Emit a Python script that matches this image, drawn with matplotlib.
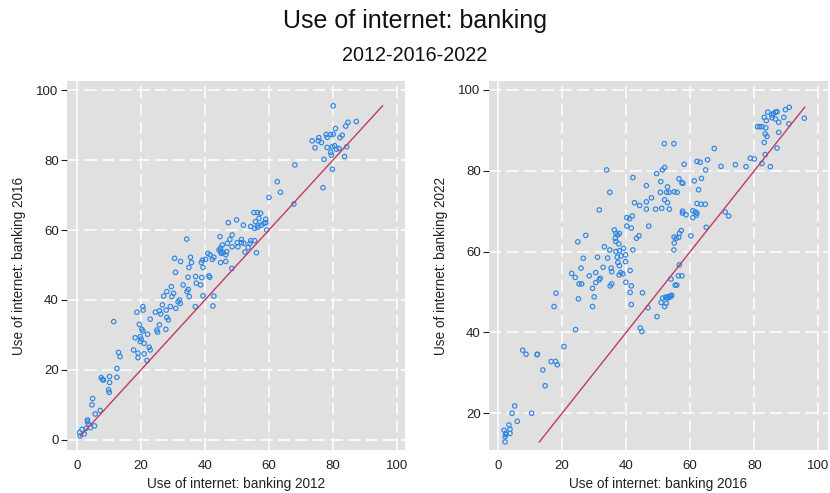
import matplotlib
matplotlib.use("Agg")
import matplotlib.pyplot as plt
import numpy as np

plt.rcParams['font.family'] = ['Liberation Sans', 'DejaVu Sans']

# Panel 1: banking 2012 (x) vs banking 2016 (y)
bank_2012 = [
    0.8, 1.6, 1.0, 2.3, 2.9, 3.3, 3.6, 4.2, 5.5, 3.3,
    4.7, 4.9, 5.7, 7.3, 9.9, 10.1, 10.2, 7.6, 8.0, 8.3,
    10.2, 12.5, 12.5, 13.0, 13.5, 11.5, 17.7, 19.1, 19.1, 21.0,
    21.9, 22.6, 22.9, 18.2, 19.8, 19.8, 20.1, 21.0, 22.1, 19.5,
    20.3, 20.6, 18.75, 20.6, 20.7, 22.9, 24.5, 25.0, 25.2, 25.8,
    25.8, 26.2, 26.7, 27.9, 28.1, 28.6, 27.8, 29.2, 29.7, 30.9,
    31.6, 32.1, 32.3, 30.2, 28.1, 34.4, 35.1, 37.0, 39.4, 27.1,
    62.6, 63.6, 60.0, 67.8, 55.3, 56.4, 57.4, 56.9, 59.0, 55.8,
    58.4, 59.0, 56.6, 57.6, 54.3, 55.5, 56.4, 59.3, 47.3, 49.9,
    52.0, 48.5, 47.8, 44.7, 51.4, 50.1, 51.4, 52.2, 54.3, 55.5,
    54.1, 53.5, 52.5, 56.1, 48.5, 50.3, 47.0, 45.4, 44.9, 44.4,
    44.9, 45.7, 45.1, 46.5, 46.8, 42.8, 42.3, 40.9, 41.6, 40.2,
    39.2, 38.9, 44.9, 46.5, 48.4, 34.3, 35.5, 32.4, 35.8, 30.5,
    35.0, 39.4, 30.8, 34.7, 37.1, 39.0, 41.25, 41.5, 37.3, 38.65,
    33.2, 29.5, 34.8, 42.8, 42.5,
    80.1, 87.3, 84.7, 84.0, 80.8, 77.9, 79.3, 80.1, 82.9, 82.2,
    75.6, 75.4, 73.5, 76.4, 78.2, 74.4, 78.2, 79.8, 80.5, 81.1,
    81.9, 84.3, 79.3, 79.5, 77.2, 83.6, 79.8, 68.1, 76.9,
]
bank_2016_a = [
    2.1, 3.0, 1.1, 1.7, 3.3, 5.2, 4.5, 3.5, 4.0, 5.7,
    10.0, 11.8, 7.4, 8.4, 14.3, 13.6, 16.4, 17.8, 17.3, 17.1,
    18.1, 17.9, 20.4, 25.0, 23.8, 33.8, 25.7, 24.8, 23.5, 24.6,
    22.7, 26.5, 25.7, 29.2, 29.5, 28.1, 28.8, 27.6, 30.2, 33.0,
    31.6, 31.1, 36.5, 38.1, 37.1, 34.5, 36.5, 31.4, 30.8, 32.9,
    36.9, 36.0, 38.6, 37.1, 35.0, 34.3, 31.6, 38.1, 41.0, 37.6,
    39.5, 40.0, 39.0, 41.9, 42.4, 42.4, 41.0, 38.1, 41.2, 41.1,
    73.8, 70.8, 69.3, 67.4, 65.0, 65.0, 64.8, 63.3, 63.1, 62.4,
    61.9, 62.1, 61.4, 61.4, 61.0, 60.5, 60.8, 60.0, 62.1, 62.9,
    61.4, 58.6, 57.3, 58.1, 57.3, 56.4, 56.4, 56.2, 56.95, 56.95,
    56.2, 55.0, 53.7, 53.5, 55.2, 55.2, 56.2, 55.7, 54.8, 54.3,
    53.8, 53.5, 53.3, 52.9, 53.8, 52.2, 51.6, 53.3, 52.9, 51.6,
    51.4, 50.7, 50.7, 51.0, 49.0, 57.4, 52.2, 51.0, 50.7, 51.9,
    49.3, 49.3, 47.9, 46.5, 46.7, 46.4, 46.9, 46.5, 44.8, 44.3,
    44.3, 43.8, 43.0, 41.1, 38.3,
    95.5, 91.0, 90.8, 89.7, 89.0, 87.3, 87.3, 87.4, 87.1, 86.4,
    86.4, 85.5, 85.5, 85.0, 86.5, 83.5, 83.6, 83.8, 84.1, 83.1,
    83.3, 83.8, 82.2, 81.4, 80.2, 81.0, 77.4, 78.6, 72.1,
]

# Panel 2: banking 2016 (x) vs banking 2022 (y)
bank_2016_b = [
    2.2, 2.2, 2.5, 2.4, 1.9, 3.75, 3.75, 3.4, 6.0, 4.4,
    5.2, 10.5, 7.7, 8.75, 12.3, 12.2, 14.0, 14.7, 16.6, 18.0,
    18.5, 20.6, 24.2, 44.4, 44.9,
    17.5, 18.1, 25.1, 29.5, 30.0, 41.25, 45.1, 41.6, 46.8, 49.6,
    50.9, 51.4, 52.0, 52.5, 52.7, 53.2, 53.5, 53.7, 54.2, 54.0,
    53.0, 52.3, 54.0, 55.3, 55.8, 56.3, 57.4,
    23.0, 24.1, 25.3, 26.1, 28.5, 29.5, 30.5, 30.5, 31.6,
    31.9, 35.0, 35.5, 35.5, 37.8, 38.3, 39.0, 39.9, 41.6, 41.25,
    51.9, 54.9, 58.1, 52.0, 51.3, 49.5, 56.5, 57.4, 57.7,
    33.9, 42.1, 34.9, 46.3, 50.8, 52.9, 50.7, 52.6, 53.4, 55.0, 55.9,
    47.9, 46.3, 52.0, 52.9, 42.6, 44.2, 46.3, 49.2, 51.1, 53.5,
    31.6, 40.2, 41.05, 41.9, 40.2, 41.6, 47.05, 43.2, 44.0,
    36.3, 36.8, 37.4, 37.9, 36.6, 36.8, 37.7, 33.2, 34.9, 36.8,
    37.9, 39.2, 27.4, 24.9, 42.1, 37.2, 38.4, 39.8, 31.05, 34.2,
    26.6, 32.8, 35.3, 37.4, 37.9, 39.8, 25.9,
    56.6, 54.9, 55.0, 55.6, 56.6, 57.2, 54.95, 56.4, 60.2,
    57.6, 57.6, 58.7,
    90.9, 89.7, 95.6, 87.1, 86.6, 86.0, 85.5, 84.2, 83.1, 83.75,
    85.5, 86.6, 87.6, 89.2, 90.8, 81.0, 81.7, 82.4, 83.6, 83.4,
    83.96, 87.6, 83.1, 87.1, 83.4, 82.4, 85.0, 78.75, 80.0, 77.4,
    74.1, 69.6, 67.5, 65.4, 62.1, 63.1, 64.8, 63.5, 61.25, 62.6,
    62.1, 63.4, 64.7, 60.8, 61.6, 62.1, 61.9, 60.8, 70.9, 71.98,
    65.0,
]
bank_2022 = [
    12.9, 14.2, 14.7, 15.0, 15.8, 15.0, 16.0, 17.1, 18.0, 20.0,
    21.8, 20.0, 35.6, 34.6, 34.6, 34.5, 30.7, 26.8, 32.8, 32.8,
    32.0, 36.5, 40.7, 41.1, 40.2,
    46.4, 49.7, 48.3, 46.4, 48.8, 49.9, 49.8, 46.9, 46.1, 43.9,
    47.4, 48.5, 46.4, 47.2, 48.7, 48.8, 48.7, 49.0, 49.2, 48.9,
    48.5, 48.7, 53.2, 51.7, 51.7, 54.0, 54.0,
    54.6, 53.6, 52.0, 52.0, 54.0, 50.9, 52.3, 54.8, 53.0,
    53.4, 51.5, 52.0, 55.0, 54.2, 54.8, 54.5, 52.4, 51.5, 55.3,
    86.7, 86.7, 81.6, 80.8, 80.2, 79.3, 78.0, 77.0, 76.9,
    80.2, 78.3, 74.65, 76.3, 77.3, 76.0, 74.65, 74.65, 74.65, 74.8, 74.65,
    73.3, 72.3, 72.8, 72.1, 72.1, 71.4, 70.5, 70.5, 70.7, 70.5,
    70.3, 68.4, 68.1, 68.8, 66.3, 65.8, 66.3, 63.3, 63.9,
    65.35, 64.5, 64.1, 64.5, 63.3, 62.5, 61.9, 61.2, 60.4, 60.0,
    60.2, 60.8, 64.0, 62.4, 60.4, 58.6, 58.9, 59.2, 58.6, 58.4,
    58.35, 56.1, 55.9, 57.3, 56.5, 57.5, 55.9,
    56.7, 60.4, 62.1, 63.3, 64.5, 65.2, 63.6, 63.5, 63.9,
    70.0, 69.5, 69.1,
    95.7, 95.1, 93.0, 94.6, 94.5, 94.2, 93.8, 94.5, 93.2, 92.4,
    93.1, 92.8, 92.0, 93.2, 91.6, 90.9, 90.9, 90.9, 90.6, 89.1,
    88.5, 89.5, 87.0, 85.6, 84.0, 81.8, 81.0, 83.1, 82.9, 81.0,
    81.5, 81.1, 85.5, 82.7, 82.3, 82.1, 80.2, 78.1, 77.5, 75.3,
    71.9, 71.7, 71.7, 70.1, 69.8, 69.5, 69.0, 68.4, 69.8, 68.8,
    66.0,
]

ticks = [0, 20, 40, 60, 80, 100]
title = "Use of internet: banking"
subtitle = "2012-2016-2022"

BG = "#e0e0e0"
DOT = "#2f86e0"
LINE = "#c23a63"

fig = plt.figure(figsize=(8.30, 4.93), dpi=100)
fig.patch.set_facecolor("white")

panels = [
    dict(x=bank_2012, y=bank_2016_a, xl="Use of internet: banking 2012",
         yl="Use of internet: banking 2016", rect=[0.0807, 0.0872, 0.4072, 0.7485],
         xlim=(-3.1, 102.5), ylim=(-2.9, 102.6), yticks=ticks),
    dict(x=bank_2016_b, y=bank_2022, xl="Use of internet: banking 2016",
         yl="Use of internet: banking 2022", rect=[0.5892, 0.0872, 0.4084, 0.7485],
         xlim=(-2.8, 103.0), ylim=(10.9, 102.2), yticks=ticks[1:]),
]

for p in panels:
    ax = fig.add_axes(p["rect"])
    ax.set_facecolor(BG)
    for s in ax.spines.values():
        s.set_visible(False)
    ax.set_xlim(*p["xlim"])
    ax.set_ylim(*p["ylim"])
    ax.set_xticks(ticks)
    ax.set_yticks(p["yticks"])
    # grid: solid at x=0, dashed elsewhere
    for t in ticks:
        if t == 0:
            ax.axvline(t, color="white", lw=1.1, zorder=1)
        else:
            ax.axvline(t, color="white", lw=1.1, dashes=(8, 3.5), zorder=1)
    for t in p["yticks"]:
        ax.axhline(t, color="white", lw=1.1, dashes=(8, 3.5), zorder=1)

    xs = np.array(p["x"])
    ys = np.array(p["y"])
    ax.scatter(xs, ys, s=10, facecolors="none", edgecolors=DOT, linewidths=0.85, zorder=3)
    lo, hi = ys.min(), ys.max()
    ax.plot([lo, hi], [lo, hi], color=LINE, lw=1.0, zorder=4)

    ax.tick_params(axis="both", labelsize=9.5, colors="#222222", length=4, width=0.8, pad=2)
    ax.tick_params(axis="x", length=0, pad=7)
    ax.set_xlabel(p["xl"], fontsize=9.8, color="#222222")
    ax.set_ylabel(p["yl"], fontsize=9.8, color="#222222")
    ax.xaxis.set_label_coords(0.5, -0.072)
    ax.yaxis.set_label_coords(-0.12, 0.5)

fig.text(0.5, 0.958, title, ha="center", va="center", fontsize=18, color="#111111")
fig.text(0.5, 0.888, subtitle, ha="center", va="center", fontsize=14.2, color="#111111")

fig.savefig("out.png", dpi=100, facecolor="white")
